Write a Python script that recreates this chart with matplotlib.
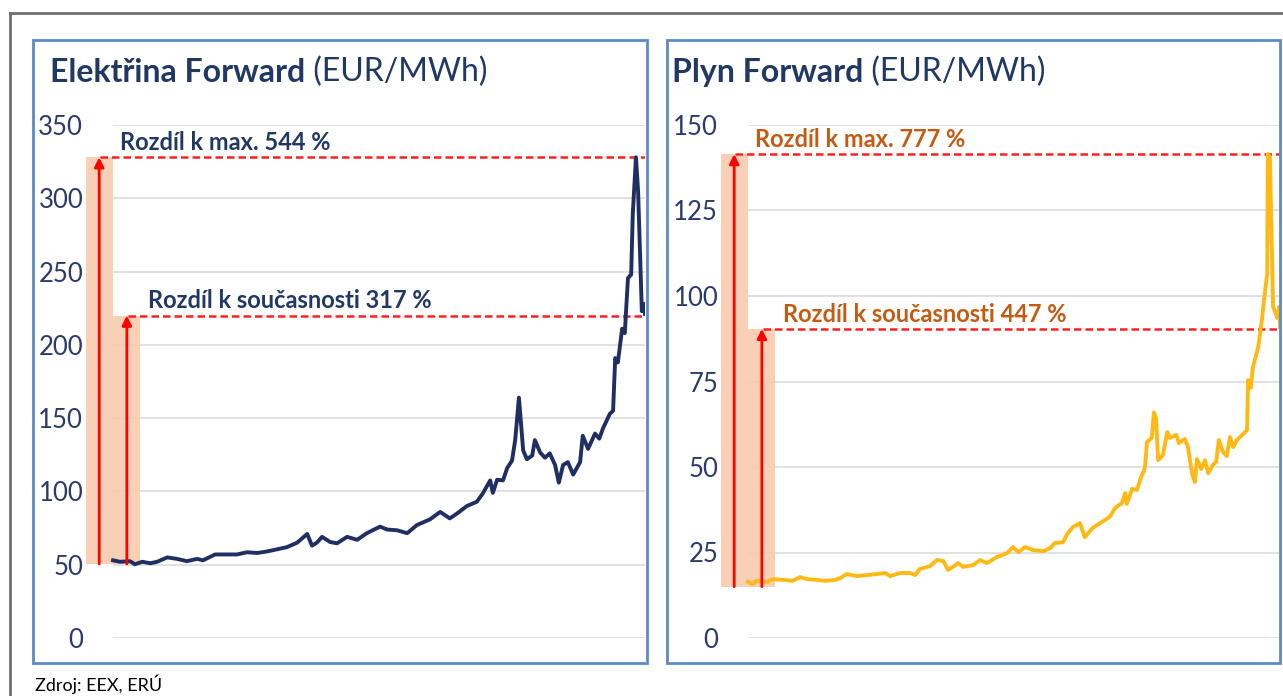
import matplotlib.pyplot as plt
from matplotlib.patches import Rectangle
from matplotlib.lines import Line2D

# time position along the x axis (0 = start, 100 = latest)
el_t = [0, 1.3, 3.2, 4.1, 5.5, 7.0, 8.3, 10.2, 12.0, 13.9, 15.8, 16.9, 19.2, 21.4,
        23.3, 25.2, 27.1, 28.9, 30.8, 32.7, 34.6, 36.5, 37.4, 38.3, 39.3, 40.8,
        42.1, 44.0, 45.9, 47.7, 50.2, 51.5, 53.4, 55.3, 57.1, 59.6, 61.5, 63.3,
        64.7, 66.5, 68.4, 69.5, 70.9, 71.4, 72.2, 73.3, 74.1, 75.0, 75.6, 76.3,
        77.1, 77.8, 78.8, 79.3, 80.3, 81.2, 82.1, 83.1, 83.8, 84.6, 85.5, 86.5,
        87.8, 88.3, 89.3, 90.6, 91.4, 92.1, 93.4, 94.0, 94.4, 94.9, 95.7, 96.2,
        96.8, 97.4, 97.7, 98.3, 98.7, 99.1, 99.4, 99.8, 100]
el_val = [53, 52, 52.4, 50.3, 52, 51, 52, 55, 54, 52.4, 54, 53, 57, 57,
          57, 58.5, 58, 59, 60.5, 62, 65, 71, 63, 65, 69, 65.5,
          64.6, 69, 67, 71.5, 76, 74, 73.5, 71.5, 77, 81, 86, 81.6,
          85, 90, 93, 98.6, 107.5, 99, 108, 107.5, 116, 121, 135, 164,
          128, 122, 124.5, 135, 126.5, 123, 126, 118, 106, 118, 120, 111.5,
          120, 138, 129, 139.5, 136, 143, 153, 155, 191, 188, 211, 208,
          245.6, 248, 289, 328, 305, 259, 223, 228, 221]
el_base = 50.5
el_cur = 220
el_max_pct = 544
el_cur_pct = 317

gas_t = [0, 0.8, 1.7, 3.6, 4.7, 6.6, 8.3, 9.8, 11.1, 13.0, 14.5, 16.4, 17.3, 18.6,
         20.5, 22.4, 24.2, 25.8, 26.7, 28.6, 30.5, 31.4, 32.3, 34.2, 35.5, 36.7,
         37.6, 38.5, 39.5, 40.4, 42.3, 43.6, 44.9, 46.8, 48.7, 49.8, 50.8, 52.1,
         53.6, 55.5, 56.8, 57.7, 59.2, 60.0, 61.1, 62.4, 63.3, 64.8, 66.2, 68.0,
         69.0, 70.3, 70.9, 71.2, 72.2, 73.1, 73.7, 74.6, 75.0, 75.9, 76.3, 76.7,
         77.1, 78.0, 78.8, 79.3, 80.5, 81.0, 82.1, 82.7, 83.5, 84.0, 84.4, 85.2,
         85.9, 86.5, 87.4, 88.0, 88.5, 89.3, 90.0, 90.6, 91.2, 91.9, 92.9, 93.8,
         94.0, 94.5, 94.9, 95.9, 96.6, 97.0, 97.6, 97.7, 98.1, 98.7, 99.5, 99.8, 100]
gas_val = [16.4, 15.8, 16.7, 16.4, 17.2, 17, 16.7, 17.8, 17.2, 17, 16.7, 17, 17.5, 18.7,
           18.1, 18.4, 18.7, 19, 18.1, 19, 19, 18.4, 20.2, 21, 22.8, 22.5,
           19.9, 20.8, 21.9, 20.8, 21.3, 22.8, 21.9, 23.7, 24.8, 26.6, 25.1, 26.6,
           25.7, 25.4, 26.3, 27.8, 28, 30.4, 32.5, 33.6, 29.5, 32.2, 33.6, 35.4,
           38, 39.5, 42.4, 39.2, 43.6, 43.3, 46.2, 49.7, 57.3, 58.5, 66, 64.3,
           52, 53.5, 60.2, 58.5, 59.4, 57, 58.2, 55.8, 47.7, 45.6, 52.3, 49.4,
           52, 48.2, 50.6, 51.5, 57.9, 54.4, 53.2, 58.8, 55.8, 57.9, 59.4, 60.8,
           75.4, 73.1, 79.2, 85, 93, 98.8, 106.7, 141.5, 140.6, 96.8, 93.6, 96.8, 91]
gas_base = 15
gas_cur = 90.4
gas_max_pct = 777
gas_cur_pct = 447

el_ticks = [0, 50, 100, 150, 200, 250, 300, 350]
gas_ticks = [0, 25, 50, 75, 100, 125, 150]

navy = '#203864'
orange_txt = '#c55a11'
FONT = 'Lato'

fig = plt.figure(figsize=(12.83, 6.96), dpi=100)
W, H = 1283, 696


def fx(px):
    return px / W


def fy(py):
    return 1 - py / H


# outer frame lines
fig.add_artist(Line2D([fx(10), 1], [fy(13), fy(13)], color='#707070', lw=2))
fig.add_artist(Line2D([fx(10), fx(10)], [fy(13), 0], color='#707070', lw=2))

# panel boxes
for x0, x1 in [(33, 647), (667, 1280)]:
    fig.add_artist(Rectangle((fx(x0), fy(663)), fx(x1 - x0), (663 - 40) / H,
                             fill=False, edgecolor='#5b8ac6', lw=2))


def panel(left_px, right_px, t, val, base, cur, ticks, color, txt_color,
          max_pct, cur_pct, title_bold, x_title):
    ax = fig.add_axes([fx(left_px), fy(638), fx(right_px - left_px), (638 - 125) / H])
    ax.set_xlim(-5.08, 100)
    ax.set_ylim(ticks[0], ticks[-1])
    for s in ax.spines.values():
        s.set_visible(False)
    ax.set_xticks([])
    ax.set_yticks(ticks)
    ax.tick_params(axis='y', length=0, pad=2, labelsize=18.5, labelcolor='#2b3a6b')
    for lab in ax.get_yticklabels():
        lab.set_fontfamily(FONT)
    ax.hlines(ticks, 0, 100, color='#dcdcdc', lw=1.2, zorder=0)

    top = max(val)
    ax.bar(-2.54, top - base, bottom=base, width=5.08, color='#f8cbad',
           alpha=0.9, zorder=1)
    ax.bar(2.54, cur - base, bottom=base, width=5.08, color='#f8cbad',
           alpha=0.9, zorder=1)
    ax.hlines(top, -2.4, 100, color='#ff2020', lw=1.8, linestyles=(0, (3, 1.6)), zorder=2)
    ax.hlines(cur, 2.8, 100, color='#ff2020', lw=1.8, linestyles=(0, (3, 1.6)), zorder=2)
    for xa, ya in [(-2.6, top), (2.6, cur)]:
        ax.annotate('', xy=(xa, ya), xytext=(xa, base),
                    arrowprops=dict(arrowstyle='-|>', color='#ff0000', lw=2,
                                    mutation_scale=14, shrinkA=0, shrinkB=0),
                    zorder=4)

    ax.plot(t, val, color=color, lw=2.8, zorder=3, solid_joinstyle='round')

    span = ticks[-1] - ticks[0]
    ax.text(1.3, top + span * 0.006, f'Rozdíl k max. {max_pct} %', color=txt_color,
            fontsize=17, fontweight='bold', family=FONT, va='bottom', ha='left')
    ax.text(6.6, cur + span * 0.006, f'Rozdíl k současnosti {cur_pct} %', color=txt_color,
            fontsize=17, fontweight='bold', family=FONT, va='bottom', ha='left')

    t1 = fig.text(fx(x_title), fy(82), title_bold, fontsize=23, fontweight='bold',
                  family=FONT, color=navy, va='baseline', ha='left')
    ax.annotate(' (EUR/MWh)', xy=(1, 0), xycoords=t1, fontsize=23, family=FONT,
                color=navy, va='bottom', ha='left', annotation_clip=False)
    return ax


panel(86, 645, el_t, el_val, el_base, el_cur, el_ticks, '#1f2f63', navy,
      el_max_pct, el_cur_pct, 'Elektřina Forward', 50)
panel(721, 1280, gas_t, gas_val, gas_base, gas_cur, gas_ticks, '#ffb915', orange_txt,
      gas_max_pct, gas_cur_pct, 'Plyn Forward', 672)

fig.text(fx(35), fy(684), 'Zdroj: EEX, ERÚ', fontsize=13, family=FONT,
         color='black', va='center', ha='left')

fig.savefig('out.png', dpi=100)
